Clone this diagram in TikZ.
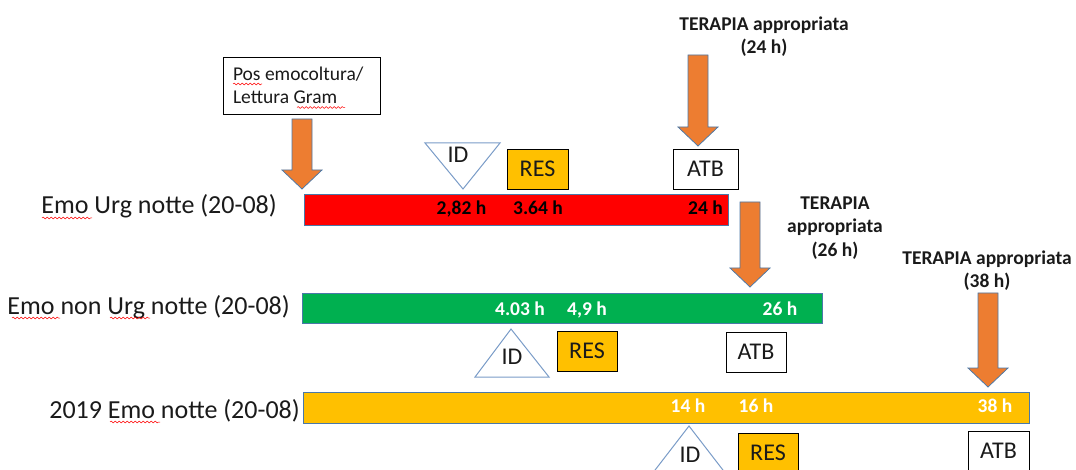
\documentclass[tikz,border=0pt]{standalone}
\usepackage{fontspec}
\setmainfont{Carlito}
\usetikzlibrary{decorations.pathmorphing}
\definecolor{arrowor}{HTML}{ED7D31}
\definecolor{outl}{HTML}{4A78A8}
\definecolor{tricol}{HTML}{7A9CC8}
\definecolor{resy}{HTML}{FFC000}
\definecolor{barred}{HTML}{FF0000}
\definecolor{bargreen}{HTML}{00B050}
\definecolor{txt}{HTML}{1A1A1A}
\newcommand\downblock[4]{%
  \filldraw[barrowst] (#2-10,#3) coordinate (#1top) -- (#2+10,#3) -- (#2+10,#4-19) -- (#2+20,#4-19)
    -- (#2,#4) coordinate (#1tip) -- (#2-20,#4-19) -- (#2-10,#4-19) -- cycle;}
\begin{document}
\begin{tikzpicture}[x=1pt,y=-1pt,
  rowlabel/.style={anchor=base east, inner sep=0, font=\fontsize{26}{30}\selectfont, text=txt},
  barlbl/.style={anchor=base, inner sep=0, font=\fontsize{19.5}{23}\bfseries\selectfont},
  tlbl/.style={anchor=north, inner sep=0, align=center, font=\fontsize{19.5}{23.5}\bfseries\selectfont, text=txt},
  whitebox/.style={draw=black, fill=white, line width=0.9pt, inner sep=0, font=\fontsize{24}{28}\selectfont, text=txt},
  resbox/.style={whitebox, fill=resy},
  bar/.style={draw=outl, line width=1pt, inner sep=0, anchor=north west},
  barrowst/.style={fill=arrowor, draw=outl, line width=0.75pt},
  tristyle/.style={draw=tricol, fill=white, line width=1pt},
  idlbl/.style={anchor=base, inner sep=0, font=\fontsize{24}{28}\selectfont, text=txt},
  squig/.style={draw=red, line width=0.5pt, decorate, decoration={snake, amplitude=0.9pt, segment length=4pt}}
]
\useasboundingbox (0,0) rectangle (1076,470);
\clip (0,0) rectangle (1076,470);

% ---------- Row 1 ----------
\node[rowlabel] (row1) at (277,214) {Emo Urg notte (20-08)};
\node[bar, fill=barred, minimum width=424pt, minimum height=31pt] (redbar) at (304,194) {};
\node[barlbl, text=black] (r1a) at (461.5,215) {2,82 h};
\node[barlbl, text=black] (r1b) at (538,215) {3.64 h};
\node[barlbl, text=black] (r1c) at (705.5,215) {24 h};

\node[whitebox, minimum width=157pt, minimum height=57pt, text width=137pt, inner xsep=10pt,
      align=flush left, font=\fontsize{19.5}{23.3}\selectfont] (pos) at (301.5,85.5)
      {Pos emocoltura/\\Lettura Gram};
\downblock{a1}{302}{119}{189}

\coordinate (id1a) at (425,143);
\coordinate (id1b) at (500,143);
\coordinate (id1c) at (463,189);
\draw[tristyle] (id1a) -- (id1b) -- (id1c) -- cycle;
\node[idlbl] (id1) at (458,163) {ID};
\node[resbox, minimum width=61pt, minimum height=40pt] (res1) at (537.5,169) {RES};
\node[whitebox, minimum width=65pt, minimum height=40pt] (atb1) at (705.5,169) {ATB};
\downblock{a2}{698}{55}{146}
\node[tlbl] (ter1) at (764,16.5) {TERAPIA appropriata\\(24 h)};

% ---------- Row 2 ----------
\node[rowlabel] (row2) at (290,315) {Emo non Urg notte (20-08)};
\node[bar, fill=bargreen, minimum width=520pt, minimum height=30pt] (greenbar) at (302,293) {};
\node[barlbl, text=white] (g1a) at (520,316) {4.03 h};
\node[barlbl, text=white] (g1b) at (587,316) {4,9 h};
\node[barlbl, text=white] (g1c) at (780,316) {26 h};
\downblock{a3}{750}{202}{287}
\node[tlbl] (ter2) at (835,196.5) {TERAPIA\\appropriata\\(26 h)};

\coordinate (id2a) at (511,329);
\coordinate (id2b) at (549,377);
\coordinate (id2c) at (475,377);
\draw[tristyle] (id2a) -- (id2b) -- (id2c) -- cycle;
\node[idlbl] (id2) at (512,364) {ID};
\node[resbox, minimum width=60pt, minimum height=40pt] (res2) at (587,351) {RES};
\node[whitebox, minimum width=60pt, minimum height=40pt] (atb2) at (756,352) {ATB};

% ---------- Row 3 ----------
\node[rowlabel] (row3) at (300,418) {2019 Emo notte (20-08)};
\node[bar, fill=resy, minimum width=726pt, minimum height=31pt] (yellowbar) at (303,392) {};
\node[barlbl, text=white] (y1a) at (688,412.5) {14 h};
\node[barlbl, text=white] (y1b) at (756,412.5) {16 h};
\node[barlbl, text=white] (y1c) at (995,412.5) {38 h};
\node[tlbl] (ter3) at (987,250.5) {TERAPIA appropriata\\(38 h)};
\downblock{a4}{988}{293}{387}

\coordinate (id3a) at (689,426);
\coordinate (id3b) at (726,474);
\coordinate (id3c) at (652,474);
\draw[tristyle] (id3a) -- (id3b) -- (id3c) -- cycle;
\node[idlbl] (id3) at (690,462) {ID};
\node[resbox, minimum width=60pt, minimum height=40pt] (res3) at (768,453) {RES};
\node[whitebox, minimum width=61pt, minimum height=40pt] (atb3) at (998.5,451) {ATB};

% ---------- spell-check squiggles ----------
\draw[squig] (42,218) -- (92,218);
\draw[squig] (12,318) -- (60,318);
\draw[squig] (110,318) -- (150,318);
\draw[squig] (110,422) -- (160,422);
\draw[squig] (233,84) -- (262,84);
\draw[squig] (297,107.5) -- (345,107.5);
\end{tikzpicture}
\end{document}
